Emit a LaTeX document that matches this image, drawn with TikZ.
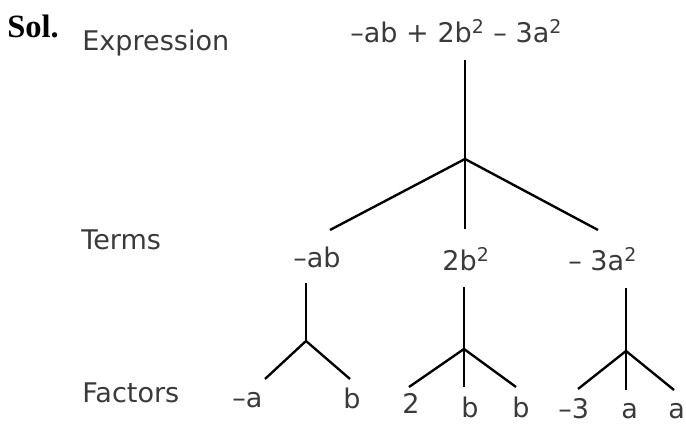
\documentclass[tikz,border=0pt]{standalone}
\usepackage{fontspec}
\setmainfont{DejaVu Sans}
\newfontfamily\solfont{Liberation Serif}
\definecolor{txtgray}{RGB}{58,58,58}

\begin{document}
\begin{tikzpicture}[
  txt/.style={inner sep=0pt,anchor=base west,text=txtgray,font=\fontsize{15.4pt}{18pt}\selectfont},
  br/.style={line width=1.35pt,black}
]

\useasboundingbox (0,0) rectangle (13.72,8.5);

\node[inner sep=0pt,anchor=base west,font=\solfont\bfseries\fontsize{18.5pt}{21pt}\selectfont] (sol) at (0.14,7.74) {Sol.};
\node[txt] (lblexpr) at (1.64,7.48) {Expression};
\node[txt] (lblterms) at (1.62,3.5) {Terms};
\node[txt] (lblfactors) at (1.64,0.44) {Factors};

\node[txt] (expr) at (7.0,7.64) {–ab + 2b\textsuperscript{2} – 3a\textsuperscript{2}};

\node[txt] (tA) at (5.86,3.14) {–ab};
\node[txt] (tB) at (8.84,3.08) {2b\textsuperscript{2}};
\node[txt] (tC) at (11.36,3.08) {– 3a\textsuperscript{2}};

\node[txt] (fA1) at (4.64,0.34) {–a};
\node[txt] (fA2) at (6.86,0.32) {b};
\node[txt] (fB1) at (8.04,0.22) {2};
\node[txt] (fB2) at (9.22,0.14) {b};
\node[txt] (fB3) at (10.24,0.14) {b};
\node[txt] (fC1) at (11.16,0.12) {–3};
\node[txt] (fC2) at (12.42,0.12) {a};
\node[txt] (fC3) at (13.36,0.12) {a};

\coordinate (root) at (9.3,7.3);
\coordinate (split) at (9.3,5.32);
\coordinate (endA) at (6.6,3.9);
\coordinate (endB) at (9.3,3.92);
\coordinate (endC) at (11.96,3.9);

\draw[br] (root) -- (split);
\draw[br] (split) -- (endA);
\draw[br] (split) -- (endB);
\draw[br] (split) -- (endC);

\coordinate (topA) at (6.12,2.84);
\coordinate (forkA) at (6.12,1.68);
\coordinate (legA1) at (5.3,0.92);
\coordinate (legA2) at (7.0,0.92);

\draw[br] (topA) -- (forkA);
\draw[br] (forkA) -- (legA1);
\draw[br] (forkA) -- (legA2);

\coordinate (topB) at (9.28,2.76);
\coordinate (forkB) at (9.28,1.52);
\coordinate (legB1) at (8.18,0.76);
\coordinate (legB2) at (9.28,0.76);
\coordinate (legB3) at (10.32,0.76);

\draw[br] (topB) -- (forkB);
\draw[br] (forkB) -- (legB1);
\draw[br] (forkB) -- (legB2);
\draw[br] (forkB) -- (legB3);

\coordinate (topC) at (12.52,2.74);
\coordinate (forkC) at (12.52,1.48);
\coordinate (legC1) at (11.56,0.72);
\coordinate (legC2) at (12.52,0.7);
\coordinate (legC3) at (13.48,0.7);

\draw[br] (topC) -- (forkC);
\draw[br] (forkC) -- (legC1);
\draw[br] (forkC) -- (legC2);
\draw[br] (forkC) -- (legC3);

\end{tikzpicture}
\end{document}
